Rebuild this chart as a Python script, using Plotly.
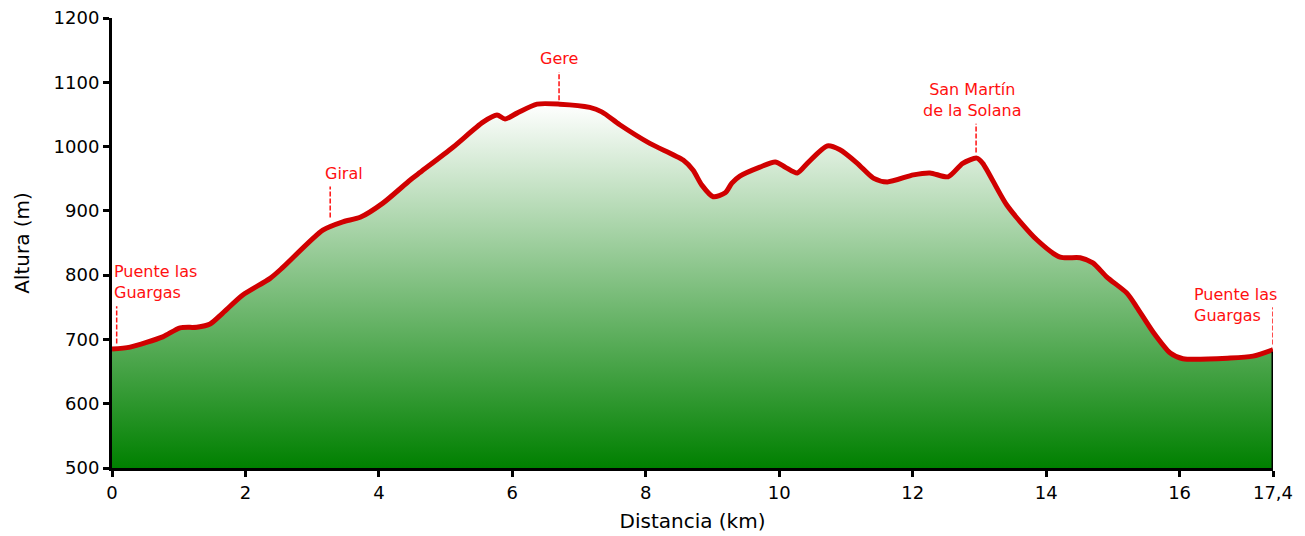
import plotly.graph_objects as go
import numpy as np

# Profile data (km, m)
dist_km = [0.0, 0.27, 0.76, 1.02, 1.27, 1.47, 1.66, 1.96, 2.37, 2.56, 3.16, 3.46, 3.72, 4.06, 4.47,
           4.62, 5.11, 5.56, 5.77, 5.89, 6.07, 6.37, 6.71, 7.16, 7.34, 7.61, 8.06, 8.56, 8.71, 8.84,
           9.01, 9.19, 9.29, 9.41, 9.71, 9.94, 10.09, 10.27, 10.42, 10.72, 10.91, 11.17, 11.41, 11.62,
           12.01, 12.26, 12.53, 12.75, 12.96, 13.05, 13.41, 13.86, 14.21, 14.51, 14.70, 14.91, 15.21,
           15.36, 15.60, 15.86, 16.05, 16.76, 17.10, 17.4]
alt_m = [685, 688, 704, 718, 719, 724, 741, 769, 795, 812, 870, 883, 890, 912, 948,
         960, 999, 1038, 1049, 1043, 1052, 1066, 1066, 1061, 1054, 1034, 1005, 979, 963, 940,
         922, 928, 943, 954, 968, 976, 968, 959, 974, 1001, 995, 974, 951, 945,
         956, 959, 953, 974, 982, 974, 909, 855, 828, 827, 819, 797, 772,
         750, 712, 679, 670, 671, 674, 684]

# Waypoints
wp_names = ["Puente las<br>Guargas", "Giral", "Gere", "San Martín<br>de la Solana", "Puente las<br>Guargas"]
wp_km = [0.07, 3.27, 6.7, 12.95, 17.4]

x_tickvals = [0, 2, 4, 6, 8, 10, 12, 14, 16, 17.4]
x_ticktext = ["0", "2", "4", "6", "8", "10", "12", "14", "16", "17,4"]
y_tickvals = [500, 600, 700, 800, 900, 1000, 1100, 1200]

FONT = "Verdana, DejaVu Sans, sans-serif"
LINE_RED = "#d00000"
LABEL_RED = "#ff1010"

# style per waypoint: (gap above profile m, dash length m, xanchor, x shift px, y shift px)
wp_style = [(8, 58, "left", -5, 2), (15, 48, "center", 14, 2), (6, 44, "center", 0, 2),
            (9, 45, "center", -4, 2), (8, 58, "left", -81, -20)]

fig = go.Figure()

fig.add_trace(go.Scatter(
    x=dist_km, y=alt_m, mode="lines",
    line=dict(color=LINE_RED, width=5, shape="spline", smoothing=0.7),
    fill="tozeroy",
    fillgradient=dict(type="vertical", start=500, stop=max(alt_m),
                      colorscale=[[0, "rgb(0,128,0)"], [1, "rgb(255,255,255)"]]),
    hoverinfo="skip", showlegend=False,
))

# right-edge black border
fig.add_trace(go.Scatter(
    x=[dist_km[-1], dist_km[-1]], y=[500, alt_m[-1] - 3], mode="lines",
    line=dict(color="black", width=3), hoverinfo="skip", showlegend=False, cliponaxis=False,
))

for name, km, (gap, length, xa, xs, ys) in zip(wp_names, wp_km, wp_style):
    e = float(np.interp(km, dist_km, alt_m))
    y0 = e + gap
    y1 = y0 + length
    fig.add_trace(go.Scatter(
        x=[km, km], y=[y0, y1], mode="lines",
        line=dict(color=LABEL_RED, width=1.5, dash="5px,2px"),
        hoverinfo="skip", showlegend=False, cliponaxis=False,
    ))
    fig.add_annotation(x=km, y=y1, text=name, showarrow=False, xanchor=xa, yanchor="bottom",
                       xshift=xs, yshift=ys, align=xa if xa != "center" else "center",
                       font=dict(family=FONT, size=16, color=LABEL_RED))

fig.update_layout(
    width=1305, height=536,
    margin=dict(l=112, r=32, t=18, b=68),
    paper_bgcolor="white", plot_bgcolor="white",
    font=dict(family=FONT, size=18, color="black"),
    xaxis=dict(range=[0, 17.4], tickvals=x_tickvals, ticktext=x_ticktext,
               showline=True, linecolor="black", linewidth=3,
               ticks="outside", ticklen=6, tickwidth=3, tickcolor="black",
               showgrid=False, zeroline=False, automargin=False,
               title=dict(text="Distancia (km)", font=dict(size=20), standoff=13),
               tickfont=dict(size=18)),
    yaxis=dict(range=[500, 1200], tickvals=y_tickvals,
               showline=True, linecolor="black", linewidth=3,
               ticks="outside", ticklen=6, tickwidth=3, tickcolor="black",
               showgrid=False, zeroline=False, automargin=False,
               title=dict(text="Altura (m)", font=dict(size=20), standoff=19),
               tickfont=dict(size=18)),
)

fig.write_html("out.html", config={"displayModeBar": False},
               post_script="document.body.style.margin='0';")
